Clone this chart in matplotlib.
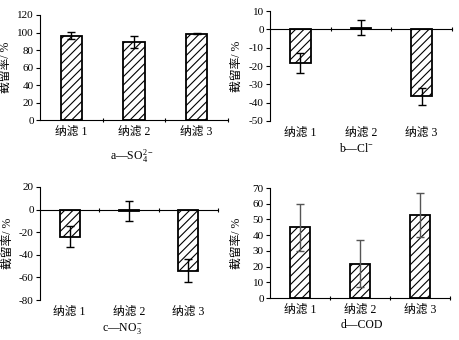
import matplotlib
matplotlib.use("Agg")
import matplotlib.pyplot as plt
import numpy as np

plt.rcParams['font.family'] = ['Liberation Serif', 'Noto Sans CJK SC']
plt.rcParams['mathtext.fontset'] = 'custom'
plt.rcParams['mathtext.rm'] = 'Liberation Serif'
plt.rcParams['mathtext.it'] = 'Liberation Serif:italic'
plt.rcParams['axes.unicode_minus'] = False
plt.rcParams['hatch.linewidth'] = 0.8

categories = ["纳滤 1", "纳滤 2", "纳滤 3"]

so4_vals = [96.5, 89.0, 98.8]
so4_err = [4.3, 6.6, 0.5]
cl_vals = [-18.3, 0.9, -36.5]
cl_err = [5.4, 4.2, 4.5]
no3_vals = [-24.0, -1.0, -54.0]
no3_err = [9.4, 8.7, 10.5]
cod_vals = [45.0, 21.7, 53.0]
cod_err = [15.0, 15.0, 14.0]

captions = [r"a—SO$_4^{2-}$", r"b—Cl$^{-}$", r"c—NO$_3^{-}$", "d—COD"]
ylabel = "截留率/ %"

W, H = 460, 340
fig = plt.figure(figsize=(4.6, 3.4), dpi=100)

def rect(l, r, t, b):
    return [l / W, 1 - b / H, (r - l) / W, (b - t) / H]

panels = [
    dict(vals=so4_vals, err=so4_err, box=rect(40, 228, 15, 120), ylim=(0, 120), step=20,
         ecolor='black', cap=captions[0], cpos=(132, 156)),
    dict(vals=cl_vals, err=cl_err, box=rect(270, 452, 11, 121), ylim=(-50, 10), step=10,
         ecolor='black', cap=captions[1], cpos=(357, 149)),
    dict(vals=no3_vals, err=no3_err, box=rect(40, 218, 187, 300), ylim=(-80, 20), step=20,
         ecolor='black', cap=captions[2], cpos=(122, 328)),
    dict(vals=cod_vals, err=cod_err, box=rect(270, 450, 188, 298), ylim=(0, 70), step=10,
         ecolor='#555555', cap=captions[3], cpos=(362, 325)),
]

x = np.arange(len(categories))
for p in panels:
    ax = fig.add_axes(p['box'])
    ax.bar(x, p['vals'], width=0.34, color='white', edgecolor='black',
           linewidth=1.3, hatch='////', zorder=2)
    ax.errorbar(x, p['vals'], yerr=p['err'], fmt='none', ecolor=p['ecolor'],
                elinewidth=1.0, capsize=2.8, capthick=1.0, zorder=3)
    ax.set_xlim(-0.5, len(categories) - 0.5)
    ax.set_ylim(*p['ylim'])
    ax.set_yticks(np.arange(p['ylim'][0], p['ylim'][1] + 0.1, p['step']))
    ax.tick_params(axis='y', direction='out', length=3, width=0.8, labelsize=8, pad=1.5)
    ax.spines['top'].set_visible(False)
    ax.spines['right'].set_visible(False)
    ax.spines['bottom'].set_position(('data', 0))
    ax.spines['left'].set_linewidth(0.8)
    ax.spines['bottom'].set_linewidth(0.8)
    ax.set_xticks(x + 0.5)
    ax.set_xticklabels([])
    ax.tick_params(axis='x', direction='inout', length=3, width=0.8)
    for i, c in enumerate(categories):
        ax.annotate(c, xy=(x[i], 0), xycoords=('data', 'axes fraction'),
                    xytext=(0, -4), textcoords='offset points',
                    ha='center', va='top', fontsize=8.5)
    ax.set_ylabel(ylabel, fontsize=8.5)
    ax.yaxis.set_label_coords(-0.15, 0.5)
    cx, cy = p['cpos']
    fig.text(cx / W, 1 - cy / H, p['cap'], ha='center', va='center', fontsize=8.5)

fig.savefig("out.png", dpi=100)
